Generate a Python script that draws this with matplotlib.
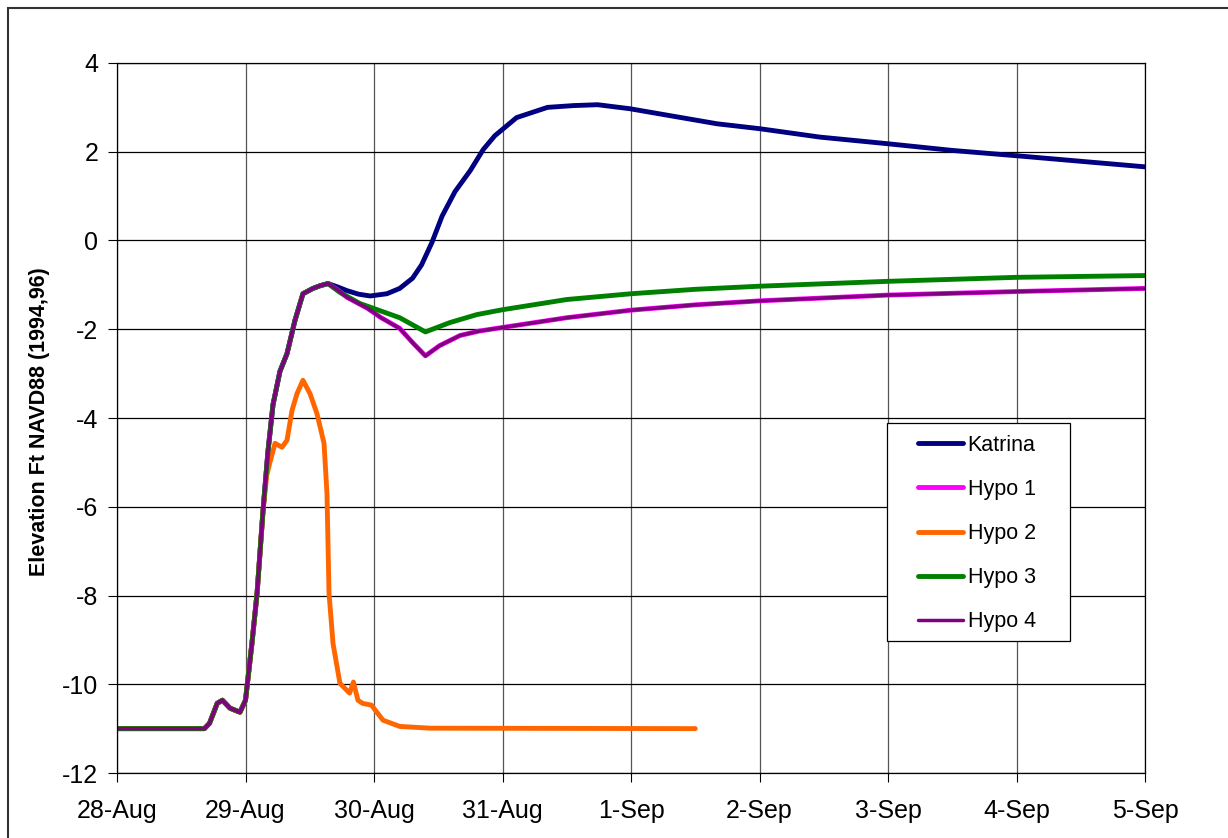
import matplotlib
matplotlib.use("Agg")
import matplotlib.pyplot as plt
from matplotlib.patches import Rectangle

plt.rcParams['font.family'] = ['Liberation Sans', 'DejaVu Sans']
plt.rcParams['axes.unicode_minus'] = False

# ---- data (x = days since 28-Aug) ----
tick_labels = ["28-Aug", "29-Aug", "30-Aug", "31-Aug", "1-Sep", "2-Sep", "3-Sep", "4-Sep", "5-Sep"]
y_ticks = [-12, -10, -8, -6, -4, -2, 0, 2, 4]

common_x = [0.0, 0.68, 0.72, 0.78, 0.82, 0.88, 0.957, 1.0, 1.05, 1.09, 1.136, 1.175,
            1.214, 1.268, 1.323, 1.385, 1.447, 1.525, 1.58, 1.642]
common_y = [-11.0, -11.0, -10.88, -10.43, -10.36, -10.54, -10.63, -10.36, -9.08, -7.95, -6.1, -4.75,
            -3.7, -2.95, -2.55, -1.8, -1.2, -1.08, -1.02, -0.97]

katrina_tail_x = [1.72, 1.79, 1.88, 1.97, 2.10, 2.20, 2.30, 2.37, 2.45, 2.53, 2.63, 2.75, 2.85, 2.94,
                  3.11, 3.35, 3.55, 3.74, 3.99, 4.67, 5.0, 5.47, 6.0, 6.5, 7.0, 8.0]
katrina_tail_y = [-1.05, -1.13, -1.21, -1.25, -1.2, -1.08, -0.85, -0.55, -0.05, 0.55, 1.1, 1.58, 2.05, 2.36,
                  2.77, 3.0, 3.04, 3.06, 2.97, 2.63, 2.52, 2.33, 2.18, 2.03, 1.91, 1.66]

hypo3_tail_x = [1.735, 1.89, 2.2, 2.40, 2.59, 2.80, 3.0, 3.5, 4.0, 4.5, 5.0, 6.0, 7.0, 8.0]
hypo3_tail_y = [-1.17, -1.42, -1.74, -2.06, -1.85, -1.67, -1.56, -1.33, -1.2, -1.1, -1.03, -0.92, -0.83, -0.79]

hypo4_tail_x = [1.72, 1.79, 1.95, 2.05, 2.20, 2.30, 2.40, 2.51, 2.67, 2.82, 3.0, 3.5, 4.0, 4.5, 5.0,
                6.0, 7.0, 8.0]
hypo4_tail_y = [-1.12, -1.28, -1.53, -1.73, -1.98, -2.3, -2.6, -2.37, -2.14, -2.04, -1.96, -1.74, -1.57, -1.45, -1.36,
                -1.23, -1.15, -1.08]

hypo2_x = [0.0, 0.68, 0.72, 0.78, 0.82, 0.88, 0.957, 1.0, 1.05, 1.09, 1.136, 1.165,
           1.19, 1.23, 1.284, 1.323, 1.362, 1.401, 1.447, 1.502, 1.556, 1.611, 1.634, 1.650,
           1.681, 1.735, 1.81, 1.84, 1.875, 1.91, 1.98, 2.07, 2.2, 2.436, 4.5]
hypo2_y = [-11.0, -11.0, -10.88, -10.43, -10.36, -10.54, -10.63, -10.36, -9.08, -7.95, -6.1, -5.3,
           -5.0, -4.57, -4.66, -4.5, -3.83, -3.45, -3.15, -3.45, -3.9, -4.57, -5.7, -7.95,
           -9.08, -9.98, -10.2, -9.95, -10.36, -10.43, -10.47, -10.81, -10.95, -10.99, -11.0]

katrina_x = common_x + katrina_tail_x
katrina_y = common_y + katrina_tail_y
hypo1_x = common_x + hypo4_tail_x
hypo1_y = common_y + hypo4_tail_y
hypo3_x = common_x + hypo3_tail_x
hypo3_y = common_y + hypo3_tail_y
hypo4_x = common_x + hypo4_tail_x
hypo4_y = common_y + hypo4_tail_y

W, H = 1228, 838
fig = plt.figure(figsize=(W / 100, H / 100), dpi=100)
fig.patch.set_facecolor('white')
fig.patches.append(Rectangle((8 / W, -0.05), 1.2, 1 - 8 / H + 0.05, transform=fig.transFigure,
                             fill=False, edgecolor='#333333', linewidth=1.5))

ax = fig.add_axes([117 / W, 1 - 773 / H, (1145 - 117) / W, (773 - 63) / H])
kw = dict(solid_capstyle='round', solid_joinstyle='round')
ax.plot(katrina_x, katrina_y, color='#000080', lw=3.5, label='Katrina', **kw)
ax.plot(hypo1_x, hypo1_y, color='#FF00FF', lw=3.5, label='Hypo 1', **kw)
ax.plot(hypo2_x, hypo2_y, color='#FF6600', lw=3.5, label='Hypo 2', **kw)
ax.plot(hypo3_x, hypo3_y, color='#008000', lw=3.5, label='Hypo 3', **kw)
ax.plot(hypo4_x, hypo4_y, color='#800080', lw=2.5, label='Hypo 4', **kw)

ax.set_xlim(0, 8)
ax.set_ylim(-12, 4)
ax.set_xticks(range(len(tick_labels)))
ax.set_xticklabels(tick_labels)
ax.set_yticks(y_ticks)
ax.set_yticklabels([str(v) for v in y_ticks])
ax.tick_params(axis='both', direction='out', length=6.5, width=0.8, labelsize=18, colors='black')
ax.tick_params(axis='y', pad=7)
ax.tick_params(axis='x', pad=12)
ax.yaxis.grid(True, color='black', lw=0.9)
ax.xaxis.grid(True, color='#555555', lw=0.9)
ax.set_axisbelow(True)
for s in ax.spines.values():
    s.set_color('black')
    s.set_linewidth(0.9)

fig.text(40 / W, 1 - 422 / H, 'Elevation Ft NAVD88 (1994,96)', rotation=90, ha='center', va='center',
         fontsize=15.5, fontweight='bold')

# legend box drawn as a patch, entries via a frameless legend on top of it
box = Rectangle((887 / W, 1 - 641 / H), (1070 - 887) / W, (641 - 423) / H,
                transform=fig.transFigure, facecolor='white', edgecolor='black',
                linewidth=0.9, zorder=8, clip_on=False)
ax.add_patch(box)
leg = ax.legend(loc='upper left', bbox_to_anchor=(918 / W, 1 - 435 / H), bbox_transform=fig.transFigure,
                fontsize=15.5, frameon=False, handlelength=2.1, handletextpad=0.2,
                labelspacing=1.07, borderpad=0, borderaxespad=0)
leg.set_zorder(9)

fig.savefig('out.png', dpi=100, facecolor='white')
